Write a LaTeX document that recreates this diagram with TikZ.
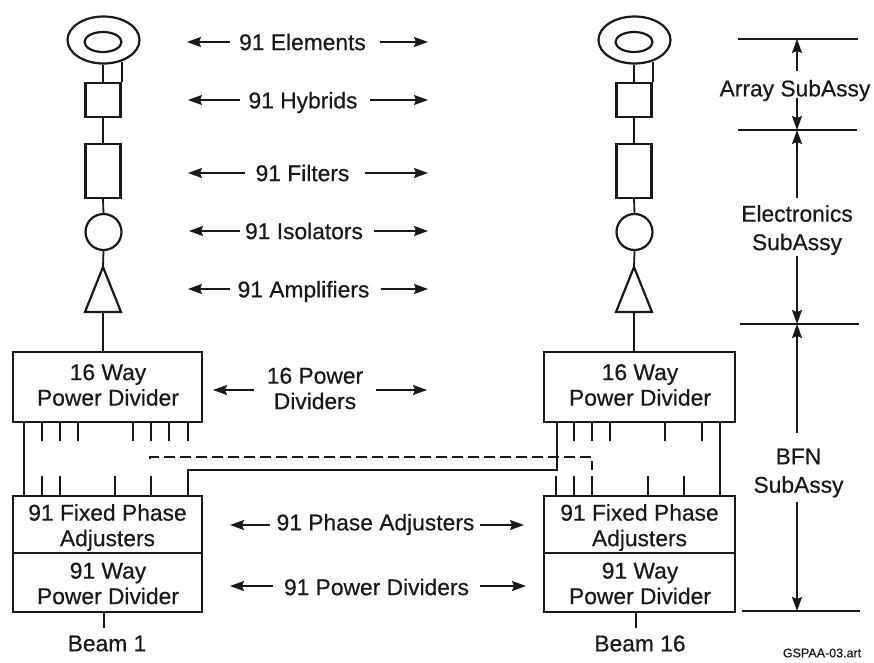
\documentclass[tikz,border=0pt]{standalone}
\usepackage{fontspec}
\setmainfont{Liberation Sans}[RawFeature={embolden=0.5}]
\usetikzlibrary{arrows.meta,shapes.geometric,calc}
\definecolor{ink}{gray}{0.1}
\tikzset{
  wire/.style={draw=ink,line width=1.8pt},
  frame/.style={draw=ink,line width=2.4pt,rectangle,inner sep=0pt},
  ring/.style={draw=ink,line width=2.2pt,ellipse,inner sep=0pt},
  lab/.style={inner sep=0pt,align=center,text=ink},
  dim/.style={draw=ink,line width=1.5pt,-{Stealth[length=14pt,width=10pt,inset=2pt]}},
  rule/.style={draw=ink,line width=1.5pt},
  bus/.style={draw=ink,line width=1.8pt},
}
\newcommand{\pair}[7]{% name, text, y, left tip, left start, right start, label position
  \node[lab] (#1) at (#7) {#2};
  \coordinate (#1LT) at (#4,#3); \coordinate (#1LS) at (#5,#3);
  \coordinate (#1RS) at (#6,#3);
}
\newcommand{\feed}[2]{% prefix, x of the column
  \node[ring,minimum width=72pt,minimum height=47pt] (#1el) at (#2+0.5,40) {};
  \node[ring,minimum width=37pt,minimum height=20pt] (#1in) at (#2,42) {};
  \node[frame,minimum width=35pt,minimum height=34pt] (#1hy) at (#2,100) {};
  \node[frame,minimum width=35pt,minimum height=54pt] (#1fi) at (#2,171) {};
  \node[ring,circle,minimum size=36pt] (#1is) at (#2+0.5,232) {};
  \coordinate (#1ap) at (#2,267);
  \coordinate (#1bl) at (#2-18,312);
  \coordinate (#1br) at (#2+18,312);
  \coordinate (#1bm) at (#2,312);
  \draw[draw=ink,line width=2.2pt,line join=miter] (#1ap) -- (#1bl) -- (#1br) -- cycle;
  \draw[wire] (#1hy.north |- #1el.south) -- (#1hy.north);
  \draw[wire] (#1hy.north east) -- (#1hy.north east |- #1el.-53);
  \draw[wire] (#1hy.south) -- (#1fi.north);
  \draw[wire] (#1fi.south) -- (#1is.north);
  \draw[wire] (#1is.south) -- (#1ap);
}
\begin{document}
\begin{tikzpicture}[x=1pt,y=-1pt,font=\fontsize{22.8}{25.5}\selectfont]
\useasboundingbox (0,0) rectangle (874,662);
\feed{a}{103}
\feed{b}{634}
% power dividers
\node[frame,minimum width=189pt,minimum height=70pt] (atop) at (107.5,387) {};
\node[frame,minimum width=191pt,minimum height=70pt] (btop) at (639.5,387) {};
\node[frame,minimum width=189pt,minimum height=57pt] (afx) at (107.5,524.5) {};
\node[frame,minimum width=191pt,minimum height=57pt] (bfx) at (639.5,524.5) {};
\node[frame,minimum width=189pt,minimum height=59pt] (apd) at (107.5,582.5) {};
\node[frame,minimum width=191pt,minimum height=59pt] (bpd) at (639.5,582.5) {};
\node[lab] (atopt) at (108,385) {16 Way\\Power Divider};
\node[lab] (btopt) at (640,385) {16 Way\\Power Divider};
\node[lab] (afxt) at (107.5,527.5) {91 Fixed Phase\\Adjusters};
\node[lab] (bfxt) at (639.5,527.5) {91 Fixed Phase\\Adjusters};
\node[lab] (apdt) at (108,583.5) {91 Way\\Power Divider};
\node[lab] (bpdt) at (640,583.5) {91 Way\\Power Divider};
\draw[wire] (abm) -- (abm |- atop.north);
\draw[wire] (bbm) -- (bbm |- btop.north);
% beams
\node[lab] (abeam) at (107,643.5) {Beam 1};
\node[lab] (bbeam) at (640,643.5) {Beam 16};
\coordinate (afoot) at (104,628);
\coordinate (bfoot) at (636,628);
\draw[wire] (afoot |- apd.south) -- (afoot);
\draw[wire] (bfoot |- bpd.south) -- (bfoot);
% stubs
\foreach \x in {42,60,78,133,151,169,188} \draw[wire] (atop.south -| \x,0) -- ++(0,18);
\foreach \x in {574,592,610,665,702} \draw[wire] (btop.south -| \x,0) -- ++(0,18);
\foreach \x in {42,60,115,151} \draw[wire] (afx.north -| \x,0) -- ++(0,-19);
\foreach \x in {556,574,592,648,684} \draw[wire] (bfx.north -| \x,0) -- ++(0,-19);
\draw[wire] (atop.south -| 24,0) -- (afx.north -| 24,0);
\draw[wire] (btop.south -| 720,0) -- (bfx.north -| 720,0);
% crossover buses
\coordinate (sa) at (188,470);
\coordinate (sb) at (557,470);
\draw[bus,line join=miter] (afx.north -| sa) -- (sa) -- (sb) -- (btop.south -| sb);
\coordinate (da) at (150,457);
\coordinate (db) at (592,457);
\coordinate (dc) at (592,470);
\draw[bus,dash pattern=on 11pt off 5pt] ($(da)+(0,2)$) -- (da) -- (db) -- (dc);
% centre labels
\newcommand{\both}[2]{\draw[dim] (#1LS) -- (#1LT); \draw[dim] (#1RS) -- (#2);}
\pair{el}{91 Elements}{42}{187}{230}{380}{302.5,42}
\coordinate (elRT) at (428,42); \both{el}{elRT}
\pair{hy}{91 Hybrids}{100}{188}{240}{370}{303,102.5}
\coordinate (hyRT) at (428,100); \both{hy}{hyRT}
\pair{fi}{91 Filters}{173}{188}{245}{365}{302.5,173}
\coordinate (fiRT) at (428,173); \both{fi}{fiRT}
\pair{is}{91 Isolators}{231}{189}{240}{374}{304,231}
\coordinate (isRT) at (428,231); \both{is}{isRT}
\pair{am}{91 Amplifiers}{289}{188}{230}{381}{303.5,291.5}
\coordinate (amRT) at (428,289); \both{am}{amRT}
\pair{pw}{16 Power\\Dividers}{390}{213}{254}{376}{315,388.5}
\coordinate (pwRT) at (427,390); \both{pw}{pwRT}
\pair{ph}{91 Phase Adjusters}{525}{230}{270}{480}{375.5,524.5}
\coordinate (phRT) at (524,525); \both{ph}{phRT}
\pair{pd}{91 Power Dividers}{586}{230}{273}{480}{376.5,587}
\coordinate (pdRT) at (526,586); \both{pd}{pdRT}
% subassembly scale
\coordinate (r1a) at (738,39);  \coordinate (r1b) at (858,39);
\coordinate (r2a) at (738,130); \coordinate (r2b) at (857,130);
\coordinate (r3a) at (740,324); \coordinate (r3b) at (859,324);
\coordinate (r4a) at (742,611); \coordinate (r4b) at (860,611);
\foreach \i in {1,2,3,4} \draw[rule] (r\i a) -- (r\i b);
\node[lab] (arr) at (795,90.5) {Array SubAssy};
\node[lab] (ele) at (797,230) {Electronics\\[3pt]SubAssy};
\node[lab] (bfn) at (798.5,473) {BFN\\[3pt]SubAssy};
\coordinate (u1) at (797,71);  \coordinate (t1) at (797,39);
\coordinate (u2) at (797,98);  \coordinate (t2) at (797,130);
\coordinate (u3) at (797,198); \coordinate (u4) at (797,256);
\coordinate (t3) at (797,324); \coordinate (u5) at (797,433);
\coordinate (u6) at (797,502); \coordinate (t4) at (797,611);
\draw[dim] (u1) -- (t1);
\draw[dim] (u2) -- (t2);
\draw[dim] (u3) -- (t2);
\draw[dim] (u4) -- (t3);
\draw[dim] (u5) -- (t3);
\draw[dim] (u6) -- (t4);
\node[lab,font=\fontsize{12.5}{14}\selectfont] (tag) at (822,653) {GSPAA-03.art};
\end{tikzpicture}
\end{document}
